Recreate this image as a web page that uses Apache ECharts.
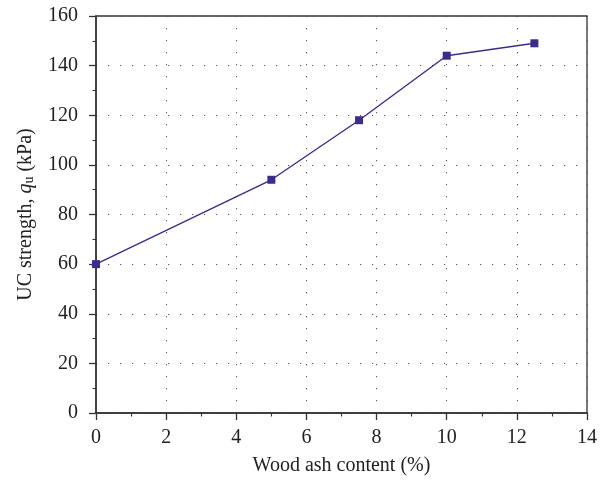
<!DOCTYPE html>
<html><head><meta charset="utf-8">
<script src="https://cdn.jsdelivr.net/npm/echarts@6/dist/echarts.min.js"></script>
<style>html,body{margin:0;padding:0;background:#fff}#c{width:605px;height:481px}</style>
</head><body><div id="c"></div>
<script>
var woodAsh = [0, 5, 7.5, 10, 12.5];
var ucStrength = [60, 94, 118, 144, 149];
var xTitle = 'Wood ash content (%)';
var F = 'Liberation Serif';
var C = '#222';
var chart = echarts.init(document.getElementById('c'), null, {renderer: 'canvas'});
chart.setOption({
  animation: false,
  backgroundColor: '#fff',
  grid: {left: 96, right: 18, top: 16, bottom: 67, show: true, borderColor: '#333', borderWidth: 1.3, backgroundColor: 'transparent'},
  xAxis: {
    type: 'value', min: 0, max: 14, interval: 2,
    name: xTitle, nameLocation: 'middle', nameGap: 43,
    nameTextStyle: {fontFamily: F, fontSize: 20, color: C},
    axisLine: {onZero: false, lineStyle: {color: '#333', width: 1.5}},
    axisTick: {inside: false, length: 7, lineStyle: {color: '#333', width: 1.3}},
    minorTick: {show: true, splitNumber: 2, length: 3.5, lineStyle: {color: '#333', width: 1.1}},
    axisLabel: {fontFamily: F, fontSize: 20, color: C, margin: 15},
    splitLine: {show: true, lineStyle: {color: '#555', width: 1, type: [1.2, 10.8]}}
  },
  yAxis: {
    type: 'value', min: 0, max: 160, interval: 20,
    name: '{n|UC strength, }{q|q}{s|u}{n| (kPa)}', nameLocation: 'middle', nameGap: 60,
    nameTextStyle: {
      fontFamily: F, fontSize: 20, color: C,
      rich: {
        n: {fontFamily: F, fontSize: 20, color: C},
        q: {fontFamily: F, fontSize: 20, fontStyle: 'italic', color: C},
        s: {fontFamily: F, fontSize: 14, color: C, verticalAlign: 'bottom', padding: [7, 0, 0, 0]}
      }
    },
    axisLine: {onZero: false, lineStyle: {color: '#333', width: 1.5}},
    axisTick: {inside: false, length: 7, lineStyle: {color: '#333', width: 1.3}},
    minorTick: {show: true, splitNumber: 2, length: 3.5, lineStyle: {color: '#333', width: 1.1}},
    axisLabel: {fontFamily: F, fontSize: 20, color: C, margin: 18},
    splitLine: {show: true, lineStyle: {color: '#555', width: 1, type: [1.2, 10.8]}}
  },
  series: [{
    type: 'line',
    data: woodAsh.map(function (x, i) { return [x, ucStrength[i]]; }),
    symbol: 'rect', symbolSize: 8, showSymbol: true,
    lineStyle: {color: '#3b2d8c', width: 1.4},
    itemStyle: {color: '#3b2d8c'},
    clip: false
  }]
});
</script></body></html>
